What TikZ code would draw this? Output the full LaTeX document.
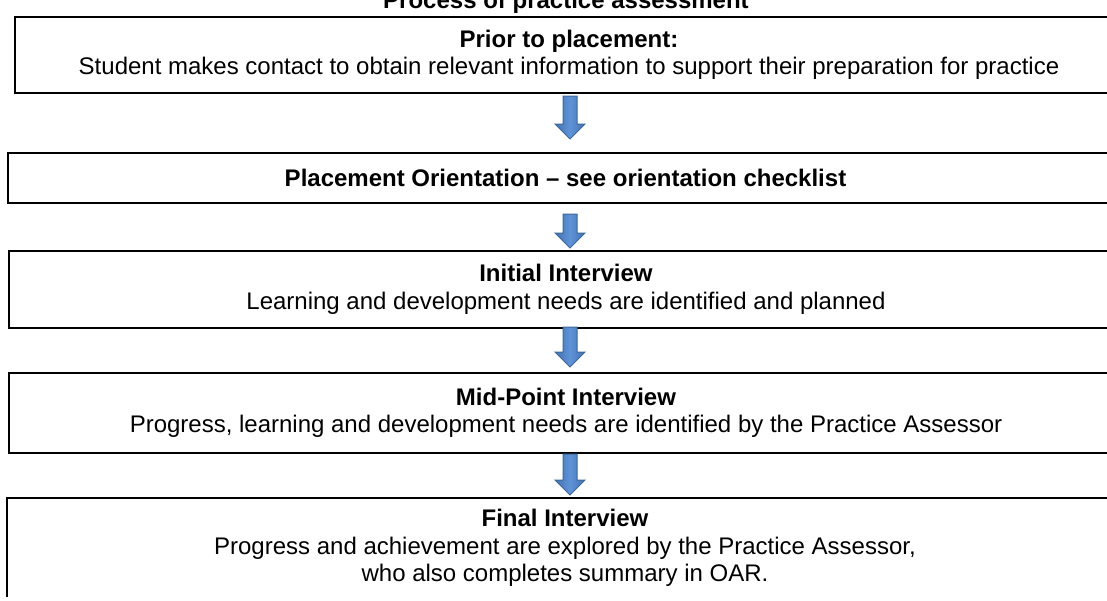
\documentclass[tikz,border=0pt]{standalone}
\usepackage{fontspec}
\setmainfont{Liberation Sans}
\usetikzlibrary{calc}
\definecolor{arrdark}{HTML}{3D6899}
\definecolor{arredge}{HTML}{4672AE}
\definecolor{arrlight}{HTML}{5E93D8}
\newcommand\blockarrow[4]{% from node, to node, offset below source, gap above target
  \path ($(#1.south -| ax)+(0,#3)$) coordinate (t)
        ($(#2.north -| ax)+(0,-#4)$) coordinate (h);
  \draw[blockarr] ($(t)+(-7,0)$) -- ($(h)+(-7,-15)$) -- ($(h)+(-15,-15)$) -- (h)
     -- ($(h)+(15,-15)$) -- ($(h)+(7,-15)$) -- ($(t)+(7,0)$) -- cycle;}
\begin{document}
\begin{tikzpicture}[x=1pt,y=-1pt,
  box/.style={draw=black, line width=2pt, anchor=north west, align=center,
    inner sep=0pt, font=\fontsize{24}{27.5}\selectfont},
  blockarr/.style={draw=arrdark, line width=1pt, left color=arredge,
    right color=arredge, middle color=arrlight}]
\useasboundingbox (0,0) rectangle (1107,600);
\clip (0,0) rectangle (1107,600);
\coordinate (ax) at (570,0);
\node[anchor=base, font=\fontsize{24}{27.5}\selectfont\bfseries] (title) at (566,8)
  {Process of practice assessment};
\node[box, minimum width=1108pt, minimum height=76pt] (b1) at (14,16)
  {\textbf{Prior to placement:}\\Student makes contact to obtain relevant information to support their preparation for practice};
\node[box, minimum width=1115pt, minimum height=50pt] (b2) at (7,152)
  {\textbf{Placement Orientation – see orientation checklist}};
\node[box, minimum width=1114pt, minimum height=77pt] (b3) at (8,250)
  {\textbf{Initial Interview}\\Learning and development needs are identified and planned};
\node[box, minimum width=1114pt, minimum height=80pt] (b4) at (8,372)
  {\textbf{Mid-Point Interview}\\Progress, learning and development needs are identified by the Practice Assessor};
\node[box, minimum width=1116pt, minimum height=100pt] (b5) at (6,497)
  {\textbf{Final Interview}\\Progress and achievement are explored by the Practice Assessor,\\who also completes summary in OAR.};
\draw[white, line width=3pt] (0,598.5) -- (1107,598.5);
\blockarrow{b1}{b2}{2}{13}
\blockarrow{b2}{b3}{10}{2}
\blockarrow{b3}{b4}{-2}{5}
\blockarrow{b4}{b5}{0}{2}
\end{tikzpicture}
\end{document}
